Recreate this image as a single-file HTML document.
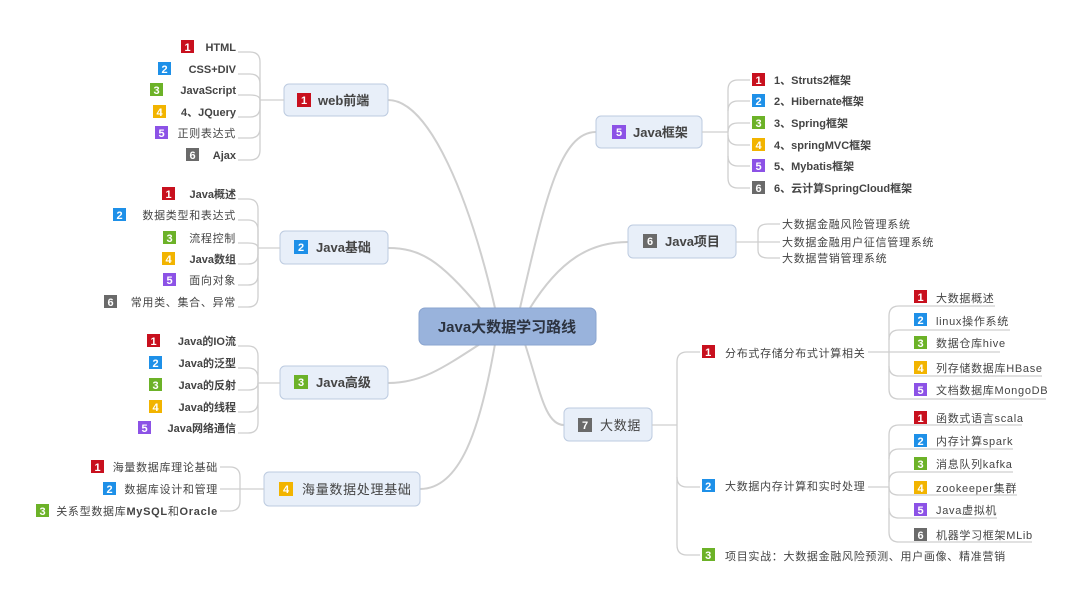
<!DOCTYPE html>
<html><head><meta charset="utf-8"><style>
body{margin:0;background:#fff}
svg text{font-family:"Liberation Sans","DejaVu Sans","Noto Sans CJK SC",sans-serif;fill:#444;font-size:11px}
.z{letter-spacing:0.7px}
.b{font-weight:bold}
.c{fill:none;stroke:#cfcfcf;stroke-width:1.3}
.m{fill:none;stroke:#cfcfcf;stroke-width:2}
.n{fill:#e8eff9;stroke:#bdcbe0;stroke-width:1}
.bt{fill:#fff;font-weight:bold;font-size:11px;text-anchor:middle}
</style></head><body>
<svg width="1080" height="601" xmlns="http://www.w3.org/2000/svg">
<!-- main curves -->
<path class="m" d="M495 308 C470 200 430 100 388 100"/>
<path class="m" d="M480 308 C440 260 420 248 388 248"/>
<path class="m" d="M480 344 C440 370 420 383 388 383"/>
<path class="m" d="M495 344 C480 430 460 489 420 489"/>
<path class="m" d="M520 308 C545 200 560 132 596 132"/>
<path class="m" d="M530 308 C560 260 590 242 628 242"/>
<path class="m" d="M525 344 C540 390 545 425 564 425"/>
<!-- central -->
<rect x="419" y="308" width="177" height="37" rx="6" fill="#99b3dc" stroke="#8aa4cf"/>
<text x="507" y="332" text-anchor="middle" class="b" style="font-size:15px;fill:#2c3340">Java大数据学习路线</text>

<!-- web前端 -->
<rect class="n" x="284" y="84" width="104" height="32" rx="5"/>
<rect x="297" y="93" width="14" height="14" fill="#c8101e"/><text class="bt" x="304" y="104">1</text>
<text x="318" y="105" class="b" style="font-size:13px">web前端</text>
<g class="c">
<path d="M238 52 H250 Q260 52 260 62 V100"/><path d="M238 74 H250 Q260 74 260 84 V100"/><path d="M238 95 H250 Q260 95 260 100"/>
<path d="M238 117 H250 Q260 117 260 107 V100"/><path d="M238 138 H250 Q260 138 260 128 V100"/><path d="M238 160 H250 Q260 160 260 150 V100"/>
<path d="M260 100 H284"/>
</g>
<g text-anchor="end" class="b">
<text x="236" y="51">HTML</text><text x="236" y="73">CSS+DIV</text><text x="236" y="94">JavaScript</text><text x="236" y="116">4、JQuery</text><text x="236" y="137" class="z" style="font-weight:normal">正则表达式</text><text x="236" y="159">Ajax</text>
</g>
<rect x="181" y="40" width="13" height="13" fill="#c8101e"/><text class="bt" x="187.5" y="51">1</text>
<rect x="158" y="62" width="13" height="13" fill="#1e90e8"/><text class="bt" x="164.5" y="73">2</text>
<rect x="150" y="83" width="13" height="13" fill="#6cb228"/><text class="bt" x="156.5" y="94">3</text>
<rect x="153" y="105" width="13" height="13" fill="#f2b400"/><text class="bt" x="159.5" y="116">4</text>
<rect x="155" y="126" width="13" height="13" fill="#8c52e6"/><text class="bt" x="161.5" y="137">5</text>
<rect x="186" y="148" width="13" height="13" fill="#6a6a6a"/><text class="bt" x="192.5" y="159">6</text>

<!-- Java基础 -->
<rect class="n" x="280" y="231" width="108" height="33" rx="5"/>
<rect x="294" y="240" width="14" height="14" fill="#1e90e8"/><text class="bt" x="301" y="251">2</text>
<text x="316" y="252" class="b" style="font-size:13px">Java基础</text>
<g class="c">
<path d="M238 199 H248 Q258 199 258 209 V248"/><path d="M238 220 H248 Q258 220 258 230 V248"/><path d="M238 243 H248 Q258 243 258 248"/>
<path d="M238 264 H248 Q258 264 258 254 V248"/><path d="M238 285 H248 Q258 285 258 275 V248"/><path d="M238 307 H248 Q258 307 258 297 V248"/>
<path d="M258 248 H280"/>
</g>
<g text-anchor="end">
<text x="236" y="198" class="b">Java概述</text><text x="236" y="219" class="z">数据类型和表达式</text><text x="236" y="242" class="z">流程控制</text><text x="236" y="263" class="b">Java数组</text><text x="236" y="284" class="z">面向对象</text><text x="236" y="306" class="z">常用类、集合、异常</text>
</g>
<rect x="162" y="187" width="13" height="13" fill="#c8101e"/><text class="bt" x="168.5" y="198">1</text>
<rect x="113" y="208" width="13" height="13" fill="#1e90e8"/><text class="bt" x="119.5" y="219">2</text>
<rect x="163" y="231" width="13" height="13" fill="#6cb228"/><text class="bt" x="169.5" y="242">3</text>
<rect x="162" y="252" width="13" height="13" fill="#f2b400"/><text class="bt" x="168.5" y="263">4</text>
<rect x="163" y="273" width="13" height="13" fill="#8c52e6"/><text class="bt" x="169.5" y="284">5</text>
<rect x="104" y="295" width="13" height="13" fill="#6a6a6a"/><text class="bt" x="110.5" y="306">6</text>

<!-- Java高级 -->
<rect class="n" x="280" y="366" width="108" height="33" rx="5"/>
<rect x="294" y="375" width="14" height="14" fill="#6cb228"/><text class="bt" x="301" y="386">3</text>
<text x="316" y="387" class="b" style="font-size:13px">Java高级</text>
<g class="c">
<path d="M238 346 H248 Q258 346 258 356 V383"/><path d="M238 368 H248 Q258 368 258 378 V383"/><path d="M238 390 H248 Q258 390 258 383"/>
<path d="M238 412 H248 Q258 412 258 402 V383"/><path d="M238 433 H248 Q258 433 258 423 V383"/>
<path d="M258 383 H280"/>
</g>
<g text-anchor="end" class="b">
<text x="236" y="345">Java的IO流</text><text x="236" y="367">Java的泛型</text><text x="236" y="389">Java的反射</text><text x="236" y="411">Java的线程</text><text x="236" y="432">Java网络通信</text>
</g>
<rect x="147" y="334" width="13" height="13" fill="#c8101e"/><text class="bt" x="153.5" y="345">1</text>
<rect x="149" y="356" width="13" height="13" fill="#1e90e8"/><text class="bt" x="155.5" y="367">2</text>
<rect x="149" y="378" width="13" height="13" fill="#6cb228"/><text class="bt" x="155.5" y="389">3</text>
<rect x="149" y="400" width="13" height="13" fill="#f2b400"/><text class="bt" x="155.5" y="411">4</text>
<rect x="138" y="421" width="13" height="13" fill="#8c52e6"/><text class="bt" x="144.5" y="432">5</text>

<!-- 海量 -->
<rect class="n" x="264" y="472" width="156" height="34" rx="5"/>
<rect x="279" y="482" width="14" height="14" fill="#f2b400"/><text class="bt" x="286" y="493">4</text>
<text x="302" y="494" class="z" style="font-size:13px">海量数据处理基础</text>
<g class="c">
<path d="M220 467 H230 Q240 467 240 477 V501 Q240 511 230 511 H220"/><path d="M220 489 L264 489"/>
</g>
<g text-anchor="end" class="z">
<text x="218" y="471">海量数据库理论基础</text><text x="218" y="493">数据库设计和管理</text><text x="218" y="515">关系型数据库<tspan class="b">MySQL</tspan>和<tspan class="b">Oracle</tspan></text>
</g>
<rect x="91" y="460" width="13" height="13" fill="#c8101e"/><text class="bt" x="97.5" y="471">1</text>
<rect x="103" y="482" width="13" height="13" fill="#1e90e8"/><text class="bt" x="109.5" y="493">2</text>
<rect x="36" y="504" width="13" height="13" fill="#6cb228"/><text class="bt" x="42.5" y="515">3</text>

<!-- Java框架 -->
<rect class="n" x="596" y="116" width="106" height="32" rx="5"/>
<rect x="612" y="125" width="14" height="14" fill="#8c52e6"/><text class="bt" x="619" y="136">5</text>
<text x="633" y="137" class="b" style="font-size:13px">Java框架</text>
<g class="c">
<path d="M702 132 H728"/>
<path d="M750 80 H738 Q728 80 728 90 V178 Q728 188 738 188 H750"/>
<path d="M750 101 H738 Q728 101 728 111"/><path d="M750 123 H738 Q728 123 728 132"/>
<path d="M750 145 H738 Q728 145 728 135"/><path d="M750 166 H738 Q728 166 728 156"/>
</g>
<g class="b">
<text x="774" y="84">1、Struts2框架</text><text x="774" y="105">2、Hibernate框架</text><text x="774" y="127">3、Spring框架</text><text x="774" y="149">4、springMVC框架</text><text x="774" y="170">5、Mybatis框架</text><text x="774" y="192">6、云计算SpringCloud框架</text>
</g>
<rect x="752" y="73" width="13" height="13" fill="#c8101e"/><text class="bt" x="758.5" y="84">1</text>
<rect x="752" y="94" width="13" height="13" fill="#1e90e8"/><text class="bt" x="758.5" y="105">2</text>
<rect x="752" y="116" width="13" height="13" fill="#6cb228"/><text class="bt" x="758.5" y="127">3</text>
<rect x="752" y="138" width="13" height="13" fill="#f2b400"/><text class="bt" x="758.5" y="149">4</text>
<rect x="752" y="159" width="13" height="13" fill="#8c52e6"/><text class="bt" x="758.5" y="170">5</text>
<rect x="752" y="181" width="13" height="13" fill="#6a6a6a"/><text class="bt" x="758.5" y="192">6</text>

<!-- Java项目 -->
<rect class="n" x="628" y="225" width="108" height="33" rx="5"/>
<rect x="643" y="234" width="14" height="14" fill="#6a6a6a"/><text class="bt" x="650" y="245">6</text>
<text x="665" y="246" class="b" style="font-size:13px">Java项目</text>
<g class="c">
<path d="M736 242 H780"/><path d="M780 224 H768 Q758 224 758 232 V250 Q758 258 768 258 H780"/>
</g>
<g class="z"><text x="782" y="228">大数据金融风险管理系统</text><text x="782" y="246">大数据金融用户征信管理系统</text><text x="782" y="262">大数据营销管理系统</text></g>

<!-- 大数据 -->
<rect class="n" x="564" y="408" width="88" height="33" rx="5"/>
<rect x="578" y="418" width="14" height="14" fill="#6a6a6a"/><text class="bt" x="585" y="429">7</text>
<text x="600" y="430" class="z" style="font-size:13px">大数据</text>
<g class="c">
<path d="M652 425 H677"/>
<path d="M700 352 H687 Q677 352 677 362 V545 Q677 555 687 555 H700"/>
<path d="M677 477 Q677 487 687 487 H700"/>
</g>
<g class="z">
<rect x="702" y="345" width="13" height="13" fill="#c8101e"/><text class="bt" x="708.5" y="356">1</text>
<text x="725" y="357">分布式存储分布式计算相关</text>
<rect x="702" y="479" width="13" height="13" fill="#1e90e8"/><text class="bt" x="708.5" y="490">2</text>
<text x="725" y="490">大数据内存计算和实时处理</text>
<rect x="702" y="548" width="13" height="13" fill="#6cb228"/><text class="bt" x="708.5" y="559">3</text>
<text x="725" y="560">项目实战：大数据金融风险预测、用户画像、精准营销</text>
</g>

<!-- sub1 leaves -->
<g class="c">
<path d="M868 352 H889"/>
<path d="M995 306 H899 Q889 306 889 316 V389 Q889 399 899 399 H1046"/>
<path d="M1010 330 H899 Q889 330 889 340"/><path d="M1000 352 H889"/>
<path d="M1042 376 H899 Q889 376 889 366"/>
</g>
<g class="z"><text x="936" y="302">大数据概述</text><text x="936" y="325">linux操作系统</text><text x="936" y="347">数据仓库hive</text><text x="936" y="372">列存储数据库HBase</text><text x="936" y="394">文档数据库MongoDB</text></g>
<rect x="914" y="290" width="13" height="13" fill="#c8101e"/><text class="bt" x="920.5" y="301">1</text>
<rect x="914" y="313" width="13" height="13" fill="#1e90e8"/><text class="bt" x="920.5" y="324">2</text>
<rect x="914" y="336" width="13" height="13" fill="#6cb228"/><text class="bt" x="920.5" y="347">3</text>
<rect x="914" y="361" width="13" height="13" fill="#f2b400"/><text class="bt" x="920.5" y="372">4</text>
<rect x="914" y="383" width="13" height="13" fill="#8c52e6"/><text class="bt" x="920.5" y="394">5</text>

<!-- sub2 leaves -->
<g class="c">
<path d="M868 487 H889"/>
<path d="M1022 425 H899 Q889 425 889 435 V532 Q889 542 899 542 H1032"/>
<path d="M1013 449 H899 Q889 449 889 459"/><path d="M1013 472 H899 Q889 472 889 482"/>
<path d="M1017 495 H899 Q889 495 889 487"/><path d="M997 518 H899 Q889 518 889 508"/>
</g>
<g class="z"><text x="936" y="422">函数式语言scala</text><text x="936" y="445">内存计算spark</text><text x="936" y="468">消息队列kafka</text><text x="936" y="492">zookeeper集群</text><text x="936" y="514">Java虚拟机</text><text x="936" y="539">机器学习框架MLib</text></g>
<rect x="914" y="411" width="13" height="13" fill="#c8101e"/><text class="bt" x="920.5" y="422">1</text>
<rect x="914" y="434" width="13" height="13" fill="#1e90e8"/><text class="bt" x="920.5" y="445">2</text>
<rect x="914" y="457" width="13" height="13" fill="#6cb228"/><text class="bt" x="920.5" y="468">3</text>
<rect x="914" y="481" width="13" height="13" fill="#f2b400"/><text class="bt" x="920.5" y="492">4</text>
<rect x="914" y="503" width="13" height="13" fill="#8c52e6"/><text class="bt" x="920.5" y="514">5</text>
<rect x="914" y="528" width="13" height="13" fill="#6a6a6a"/><text class="bt" x="920.5" y="539">6</text>
</svg>
</body></html>
